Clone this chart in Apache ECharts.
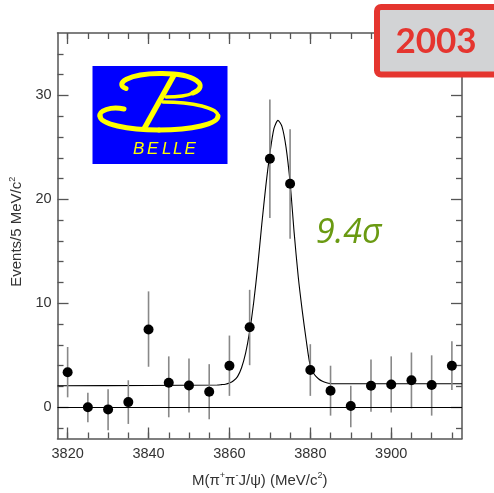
<!DOCTYPE html>
<html><head><meta charset="utf-8">
<script src="https://cdn.jsdelivr.net/npm/echarts@6/dist/echarts.min.js"></script>
<style>html,body{margin:0;padding:0;background:#fff}#c{width:494px;height:493px}</style>
</head><body><div id="c"></div>
<script>
// ---- data ----
const massBins = [3820,3825,3830,3835,3840,3845,3850,3855,3860,3865,3870,3875,3880,3885,3890,3895,3900,3905,3910,3915];
const events   = [3.38,0.0,-0.2,0.5,7.48,2.36,2.1,1.5,4.0,7.7,23.9,21.5,3.58,1.6,0.12,2.07,2.2,2.6,2.14,4.0];
const errHigh  = [5.8,1.4,1.74,2.6,11.15,4.9,4.7,4.15,6.9,11.3,29.6,26.75,6.07,4.0,2.07,4.6,4.9,5.27,5.0,6.36];
const errLow   = [0.96,-1.44,-2.2,-1.6,3.9,-0.96,-0.5,-1.15,1.1,4.05,18.2,16.2,1.1,-0.8,-1.92,-0.42,-0.5,-0.1,-0.8,1.66];

const fitMass  = [3817.5,3840,3857,3858,3859,3860,3861,3862,3863,3864,3865,3866,3867,3868,3869,3870,3871,3872,3873,3874,3875,3876,3877,3878,3879,3880,3881,3882,3883,3884,3885,3886,3917.5];
const fitValue = [2.07,2.1,2.15,2.18,2.22,2.33,2.55,2.95,3.8,5.2,7.3,10.1,13.6,17.6,21.3,24.4,26.8,27.6,27.0,25.0,21.6,16.8,12.6,9.3,6.4,3.95,3.15,2.75,2.5,2.36,2.29,2.27,2.26];

const xMajorTicks = [3820,3840,3860,3880,3900];
const xMinorTicks = [3820,3825,3830,3835,3840,3845,3850,3855,3860,3865,3870,3875,3880,3885,3890,3895,3900,3905,3910,3915];
const yMajorTicks = [0,10,20,30];
const yMinorTicks = [-2,2,4,6,8,12,14,16,18,22,24,26,28,32,34];
const xRange = [3817.5, 3917.5];
const yRange = [-3, 36];

const FONT = '"Liberation Sans", Arial, sans-serif';
const AXC = '#555';

function xAxisDef(pos, ticks, len, withLabel, showLine) {
  return {
    type: 'value', position: pos, min: xRange[0], max: xRange[1],
    axisLine: {show: showLine, onZero: false, lineStyle: {color: AXC, width: 1.5}},
    axisTick: {show: true, inside: true, length: len, customValues: ticks, lineStyle: {color: AXC, width: 1.3}},
    axisLabel: withLabel ? {show: true, customValues: ticks, fontFamily: FONT, fontSize: 14.5, color: '#333', margin: 8,
      formatter: function (v) { return String(v); }} : {show: false},
    splitLine: {show: false}
  };
}
function yAxisDef(pos, ticks, len, withLabel, showLine) {
  return {
    type: 'value', position: pos, min: yRange[0], max: yRange[1],
    axisLine: {show: showLine, onZero: false, lineStyle: {color: AXC, width: 1.5}},
    axisTick: {show: true, inside: true, length: len, customValues: ticks, lineStyle: {color: AXC, width: 1.3}},
    axisLabel: withLabel ? {show: true, customValues: ticks, fontFamily: FONT, fontSize: 14.5, color: '#333', margin: 6,
      formatter: function (v) { return String(v); }} : {show: false},
    splitLine: {show: false}
  };
}

const xMain = xAxisDef('bottom', xMajorTicks, 11, true, true);
xMain.name = '{n|M(π}{s|+}{n|π}{s|-}{n|J/ψ) (MeV/c}{s|2}{n|)}';
xMain.nameLocation = 'middle';
xMain.nameGap = 33;
xMain.nameTextStyle = {fontFamily: FONT, fontSize: 15, color: '#333',
  rich: {n: {fontFamily: FONT, fontSize: 15, color: '#333', lineHeight: 18},
         s: {fontFamily: FONT, fontSize: 9, color: '#333', lineHeight: 10, verticalAlign: 'top'}}};

const yMain = yAxisDef('left', yMajorTicks, 11, true, true);
yMain.name = '{n|Events/5 MeV/c}{s|2}';
yMain.nameLocation = 'middle';
yMain.nameRotate = 90;
yMain.nameGap = 24;
yMain.nameTextStyle = {fontFamily: FONT, fontSize: 15, color: '#333', padding: [0, 0, 0, 8],
  rich: {n: {fontFamily: FONT, fontSize: 15, color: '#333', lineHeight: 18},
         s: {fontFamily: FONT, fontSize: 9, color: '#333', lineHeight: 10, verticalAlign: 'top'}}};

const scatterData = massBins.map((m, i) => [m, events[i]]);
const errData = massBins.map((m, i) => [m, errLow[i], errHigh[i]]);
const fitData = fitMass.map((m, i) => [m, fitValue[i]]);

const YEL = '#ffff00';
const logoStroke = {stroke: YEL, lineWidth: 5, fill: null, lineCap: 'round'};
const logoThin = {stroke: YEL, lineWidth: 3.5, fill: null, lineCap: 'round'};

const option = {
  animation: false,
  backgroundColor: '#ffffff',
  grid: {left: 54, top: 33, width: 408, height: 406, containLabel: false},
  xAxis: [
    xMain,
    xAxisDef('bottom', xMinorTicks, 6, false, false),
    xAxisDef('top', xMajorTicks, 11, false, true),
    xAxisDef('top', xMinorTicks, 6, false, false)
  ],
  yAxis: [
    yMain,
    yAxisDef('left', yMinorTicks, 6, false, false),
    yAxisDef('right', yMajorTicks, 11, false, true),
    yAxisDef('right', yMinorTicks, 6, false, false)
  ],
  series: [
    {
      type: 'line', data: fitData, smooth: 0.25, showSymbol: false, symbol: 'none',
      lineStyle: {color: '#000', width: 1.1}, z: 3, silent: true,
      markLine: {silent: true, symbol: 'none', label: {show: false},
        lineStyle: {color: '#000', width: 1.1, type: 'solid'},
        data: [{yAxis: 0}]}
    },
    {
      type: 'custom', data: errData, z: 4, silent: true,
      renderItem: function (params, api) {
        const p1 = api.coord([api.value(0), api.value(1)]);
        const p2 = api.coord([api.value(0), api.value(2)]);
        return {type: 'line', shape: {x1: p1[0], y1: p1[1], x2: p2[0], y2: p2[1]},
          style: {stroke: '#888', lineWidth: 1.6}};
      }
    },
    {
      type: 'scatter', data: scatterData, symbol: 'circle', symbolSize: 10,
      itemStyle: {color: '#000', opacity: 1}, z: 5, silent: true
    }
  ],
  graphic: [
    // BELLE logo
    {type: 'rect', z: 50, shape: {x: 92.5, y: 66, width: 135, height: 98}, style: {fill: '#0000ff'}},
    {type: 'bezierCurve', z: 51, shape: {x1: 126, y1: 88.5, cpx1: 114, cpy1: 84, cpx2: 128, cpy2: 73.5, x2: 160, y2: 73.5}, style: logoStroke},
    {type: 'bezierCurve', z: 51, shape: {x1: 160, y1: 73.5, cpx1: 196, cpy1: 73, cpx2: 210, cpy2: 86, x2: 193, y2: 93}, style: logoStroke},
    {type: 'bezierCurve', z: 51, shape: {x1: 193, y1: 93, cpx1: 187, cpy1: 96, cpx2: 178, cpy2: 97, x2: 166, y2: 97}, style: logoThin},
    {type: 'bezierCurve', z: 51, shape: {x1: 124, y1: 109, cpx1: 110, cpy1: 106, cpx2: 99, cpy2: 111, x2: 100, y2: 116}, style: logoStroke},
    {type: 'bezierCurve', z: 51, shape: {x1: 100, y1: 116, cpx1: 100, cpy1: 124, cpx2: 127, cpy2: 130, x2: 159, y2: 130}, style: logoStroke},
    {type: 'bezierCurve', z: 51, shape: {x1: 159, y1: 130, cpx1: 192, cpy1: 130, cpx2: 218, cpy2: 124, x2: 218, y2: 116}, style: logoStroke},
    {type: 'bezierCurve', z: 51, shape: {x1: 218, y1: 116, cpx1: 218, cpy1: 108, cpx2: 193, cpy2: 102, x2: 163, y2: 102}, style: logoThin},
    {type: 'line', z: 51, shape: {x1: 174, y1: 75, x2: 144, y2: 129}, style: {stroke: YEL, lineWidth: 5.5}},
    {type: 'text', z: 52, x: 133, y: 149.5, style: {text: 'B', font: 'italic 17px "Liberation Sans"', fill: YEL, verticalAlign: 'middle'}},
    {type: 'text', z: 52, x: 147, y: 149.5, style: {text: 'E', font: 'italic 17px "Liberation Sans"', fill: YEL, verticalAlign: 'middle'}},
    {type: 'text', z: 52, x: 162, y: 149.5, style: {text: 'L', font: 'italic 17px "Liberation Sans"', fill: YEL, verticalAlign: 'middle'}},
    {type: 'text', z: 52, x: 173, y: 149.5, style: {text: 'L', font: 'italic 17px "Liberation Sans"', fill: YEL, verticalAlign: 'middle'}},
    {type: 'text', z: 52, x: 184.5, y: 149.5, style: {text: 'E', font: 'italic 17px "Liberation Sans"', fill: YEL, verticalAlign: 'middle'}},
    // significance label
    {type: 'text', z: 52, x: 316, y: 233, style: {text: '9.4σ', font: 'italic 34px "Open Sans"', fill: '#6a9a12', verticalAlign: 'middle'}},
    // year box
    {type: 'rect', z: 60, shape: {x: 377, y: 7, width: 130, height: 67.5, r: 4},
      style: {fill: '#d2d3d5', stroke: '#e5352f', lineWidth: 6}},
    {type: 'text', z: 61, x: 436, y: 41.5, style: {text: '2003', font: 'bold 35px Lato', fill: '#e5352f', align: 'center', verticalAlign: 'middle'}}
  ]
};

const chart = echarts.init(document.getElementById('c'), null, {renderer: 'canvas'});
chart.setOption(option);
</script>
</body></html>
